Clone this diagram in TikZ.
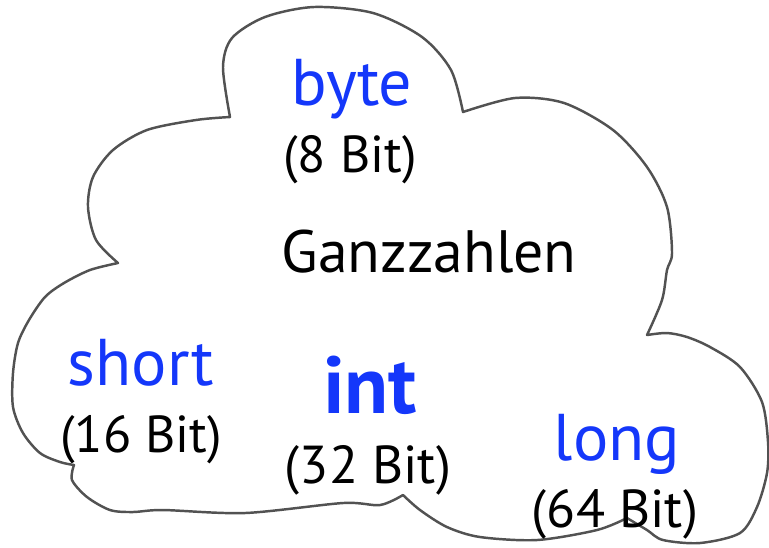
\documentclass[tikz,border=0pt]{standalone}
\usepackage{fontspec}
\setmainfont{PT Sans}
\definecolor{typeblue}{RGB}{20,55,250}

\begin{document}
\begin{tikzpicture}[
    cloudline/.style={draw=black!68, line width=0.7pt, line join=round},
    typename/.style={text=typeblue, font=\fontsize{18.8}{22}\selectfont, anchor=base, inner sep=0pt},
    bits/.style={font=\fontsize{14.8}{17}\selectfont, anchor=base, inner sep=0pt}]
    \useasboundingbox (0,0) rectangle (7.69,5.47);
    % Draw the cloud, one lobe after the other
    \draw[cloudline]
        plot[smooth] coordinates {(2.30,4.30) (2.23,4.80) (2.32,5.09) (2.65,5.30) (3.14,5.40)
            (3.73,5.34) (4.22,5.10) (4.51,4.77) (4.63,4.35)}
        -- plot[smooth] coordinates {(4.63,4.35) (5.15,4.49) (5.64,4.44) (6.13,4.17) (6.47,3.80)
            (6.67,3.40) (6.72,2.94) (6.67,2.77) (6.62,2.47) (6.47,2.12)}
        -- plot[smooth] coordinates {(6.47,2.12) (6.67,2.14) (6.87,2.10) (7.10,2.00) (7.40,1.80)
            (7.62,1.45) (7.68,1.05) (7.67,0.74) (7.57,0.40) (7.40,0.14) (7.00,0.04)
            (6.63,0.07) (6.47,0.17) (6.27,0.29)}
        -- plot[smooth] coordinates {(6.27,0.29) (5.97,0.17) (5.37,0.07) (4.80,0.10) (4.47,0.20)
            (4.20,0.37) (4.03,0.52)}
        -- plot[smooth] coordinates {(4.03,0.52) (3.80,0.42) (3.43,0.44) (2.45,0.34) (1.63,0.37)
            (1.33,0.35) (1.10,0.37) (0.87,0.50) (0.72,0.67) (0.74,0.82)}
        -- plot[smooth] coordinates {(0.74,0.82) (0.60,0.85) (0.40,0.94) (0.23,1.14) (0.13,1.40)
            (0.13,1.74) (0.18,2.04) (0.29,2.27) (0.45,2.50) (0.64,2.64) (0.90,2.77) (1.18,2.84)}
        -- plot[smooth] coordinates {(1.18,2.84) (0.96,3.07) (0.88,3.40) (0.93,3.70) (1.13,3.97)
            (1.47,4.17) (1.96,4.27) (2.30,4.30)}
        -- cycle;

    % The title in the middle
    \node (title) [anchor=base, inner sep=0pt, font=\fontsize{17}{20}\selectfont]
        at (4.29,2.75) {Ganzzahlen};

    % Type names with their widths
    \node (byte) [typename] at (3.52,4.42) {byte};
    \node (bytebits) [bits] at (3.50,3.75) {(8 Bit)};
    \node (short) [typename] at (1.41,1.62) {short};
    \node (shortbits) [bits] at (1.41,0.95) {(16 Bit)};
    \node (int) [typename, font=\fontsize{23}{27}\selectfont\bfseries] at (3.70,1.34) {int};
    \node (intbits) [bits, font=\fontsize{15.2}{18}\selectfont] at (3.68,0.64) {(32 Bit)};
    \node (long) [typename] at (6.17,0.87) {long};
    \node (longbits) [bits, font=\fontsize{15.2}{18}\selectfont] at (6.15,0.20) {(64 Bit)};
\end{tikzpicture}
\end{document}
